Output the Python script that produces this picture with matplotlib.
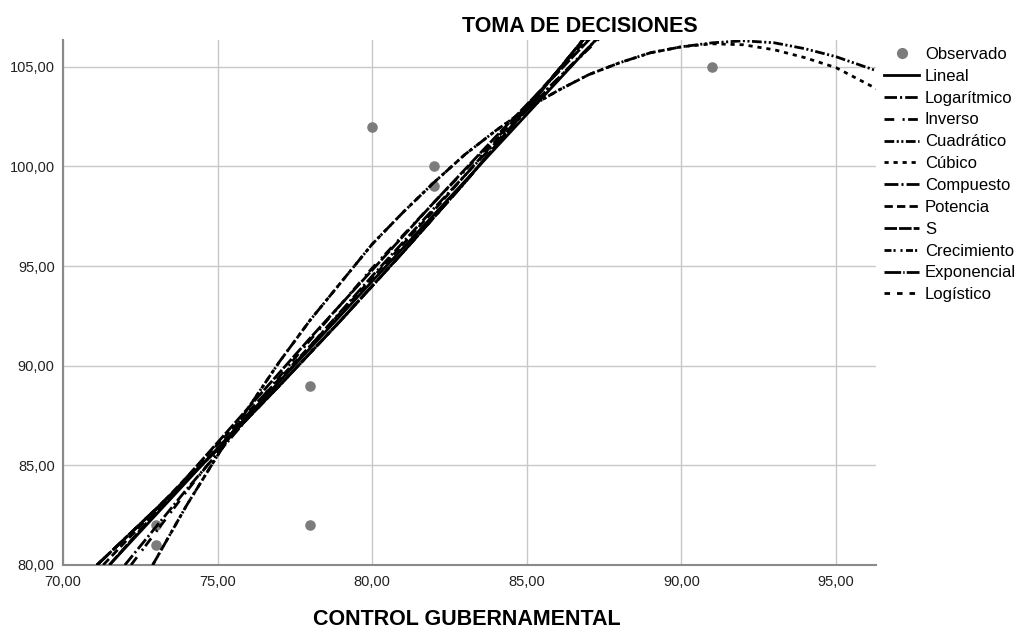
import matplotlib
matplotlib.use("Agg")
import matplotlib.pyplot as plt
from matplotlib.lines import Line2D

plt.rcParams['font.family'] = ['Liberation Sans', 'DejaVu Sans']
plt.rcParams['lines.scale_dashes'] = False

# ---------------- data ----------------
obs_x = [73, 73, 78, 78, 80, 82, 82, 91]
obs_y = [82, 81, 89, 82, 102, 100, 99, 105]

lin_x = [71.5, 87.5]
lin_y = [80.0, 106.8]

log_x = [72.0, 74, 76, 78, 80, 82, 84, 86, 87.4]
log_y = [80.0, 83.8, 87.4, 91.0, 94.5, 97.9, 101.2, 104.4, 106.6]

inv_x = [72.2, 74, 76, 78, 80, 82, 84, 86, 87.4]
inv_y = [80.0, 83.7, 87.6, 91.3, 94.9, 98.2, 101.4, 104.4, 106.5]

quad_x = [72.9, 74, 75, 76, 77, 78, 79, 80, 81, 82, 83, 84, 85, 86, 87, 88,
          89, 90, 91, 92, 93, 94, 95, 96.3]
quad_y = [80.0, 83.0, 85.5, 87.9, 90.2, 92.3, 94.2, 96.1, 97.7, 99.2, 100.6,
          101.8, 102.9, 103.8, 104.6, 105.2, 105.7, 106.0, 106.2, 106.3,
          106.2, 105.9, 105.5, 104.8]

cub_x = [72.9, 74, 75, 76, 77, 78, 79, 80, 81, 82, 83, 84, 85, 86, 87, 88,
         89, 90, 91, 92, 93, 94, 95, 96.3]
cub_y = [80.0, 83.0, 85.5, 87.9, 90.2, 92.3, 94.2, 96.1, 97.7, 99.2, 100.6,
         101.8, 102.9, 103.8, 104.6, 105.2, 105.7, 106.0, 106.15, 106.1,
         105.85, 105.45, 104.95, 103.9]

exp_x = [71.1, 73, 75, 77, 79, 81, 83, 85, 87]
exp_y = [80.0, 82.8, 85.8, 89.0, 92.3, 95.7, 99.2, 102.9, 106.7]

pow_x = [71.3, 74, 76, 78, 80, 82, 84, 86, 87]
pow_y = [80.0, 84.4, 87.7, 91.0, 94.4, 97.8, 101.3, 104.8, 106.5]

s_x = [71.5, 74, 76, 78, 80, 82, 84, 86, 87.1]
s_y = [80.0, 84.4, 87.9, 91.4, 94.8, 98.2, 101.5, 104.7, 106.5]

x_ticks = [70, 75, 80, 85, 90, 95]
x_tick_labels = ["70,00", "75,00", "80,00", "85,00", "90,00", "95,00"]
y_ticks = [80, 85, 90, 95, 100, 105]
y_tick_labels = ["80,00", "85,00", "90,00", "95,00", "100,00", "105,00"]

title = "TOMA DE DECISIONES"
xlabel = "CONTROL GUBERNAMENTAL"

# ---------------- styles ----------------
lw = 2.0
styles = {
    "Lineal": "-",
    "Logarítmico": (0, (9, 2.2, 1.5, 2.2)),
    "Inverso": (0, (7, 6, 1.5, 2.5)),
    "Cuadrático": (0, (7, 1.8, 1.5, 1.8, 1.5, 1.8)),
    "Cúbico": (0, (3, 3.5)),
    "Compuesto": (0, (10, 2.2, 1.5, 2.2)),
    "Potencia": (0, (6, 3)),
    "S": (0, (9, 1.5)),
    "Crecimiento": (0, (5, 1.5, 1.5, 3.5, 1.5, 2.5)),
    "Exponencial": (0, (12, 1.5, 1, 1.5)),
    "Logístico": (0, (4, 5)),
}
curves = [
    ("Lineal", lin_x, lin_y),
    ("Logarítmico", log_x, log_y),
    ("Inverso", inv_x, inv_y),
    ("Cuadrático", quad_x, quad_y),
    ("Cúbico", cub_x, cub_y),
    ("Compuesto", exp_x, exp_y),
    ("Potencia", pow_x, pow_y),
    ("S", s_x, s_y),
    ("Crecimiento", exp_x, exp_y),
    ("Exponencial", exp_x, exp_y),
    ("Logístico", exp_x, exp_y),
]

fig = plt.figure(figsize=(10.27, 6.28), dpi=100)
ax = fig.add_axes([63/1027, 1-565/628, (876-63)/1027, (565-40)/628])

pt_color = "#7c7c7c"
ax.scatter(obs_x, obs_y, s=58, color=pt_color, zorder=2, linewidths=0)

handles = [Line2D([], [], linestyle="none", marker="o", markersize=7,
                  color=pt_color, label="Observado")]
for name, xs, ys in curves:
    ax.plot(xs, ys, color="black", lw=lw, linestyle=styles[name], zorder=3,
            solid_capstyle="butt", dash_capstyle="butt")
    handles.append(Line2D([], [], color="black", lw=lw,
                          linestyle=styles[name], label=name))

ax.set_xlim(70, 96.29)
ax.set_ylim(80, 106.34)
ax.set_xticks(x_ticks)
ax.set_xticklabels(x_tick_labels)
ax.set_yticks(y_ticks)
ax.set_yticklabels(y_tick_labels)
ax.tick_params(length=0, labelsize=10.5, colors="#222222")
ax.tick_params(axis="x", pad=7)
ax.tick_params(axis="y", pad=6)
ax.grid(True, color="#c8c8c8", lw=1.0)
ax.set_axisbelow(True)
for side in ["top", "right"]:
    ax.spines[side].set_visible(False)
for side in ["left", "bottom"]:
    ax.spines[side].set_color("#8a8a8a")
    ax.spines[side].set_linewidth(1.5)

fig.text(580/1027, 1-32/628, title, ha="center", va="baseline",
         fontsize=15.5, fontweight="bold")
fig.text(467/1027, 1-625/628, xlabel, ha="center", va="baseline",
         fontsize=15.5, fontweight="bold")

fig.legend(handles=handles, loc="upper left",
           bbox_to_anchor=(884/1027, 1-47/628), frameon=False,
           borderaxespad=0, borderpad=0, fontsize=12,
           handlelength=2.1, handletextpad=0.35, labelspacing=0.41)

fig.savefig("out.png", dpi=100)
